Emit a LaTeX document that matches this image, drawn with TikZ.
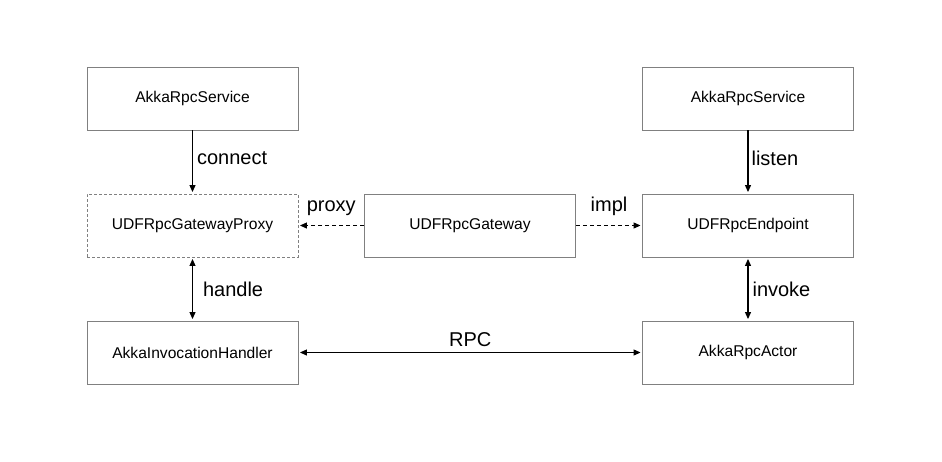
\documentclass[tikz,border=0pt]{standalone}
\usepackage{fontspec}
\setmainfont{Liberation Sans}
\usetikzlibrary{arrows.meta}
\begin{document}
\begin{tikzpicture}[x=1pt,y=-1pt,
  box/.style={draw=black!50,line width=0.9pt,minimum width=211pt,minimum height=63pt,inner sep=0pt,font=\fontsize{15.6}{18}\selectfont},
  dbox/.style={box,dashed,dash pattern=on 3pt off 2pt},
  conn/.style={line width=1.1pt,-{Triangle[length=7pt,width=6pt]},shorten >=1.5pt},
  biconn/.style={line width=1.1pt,{Triangle[length=7pt,width=6pt]}-{Triangle[length=7pt,width=6pt]},shorten >=1.5pt,shorten <=1.5pt},
  dconn/.style={conn,dashed,dash pattern=on 4pt off 3pt},
  lbl/.style={font=\fontsize{20}{24}\selectfont,inner sep=0pt}]
\useasboundingbox (0,0) rectangle (942,461);
\fill[white] (0,0) rectangle (942,461);
\node[box] (ars1) at (192.5,98.5) {AkkaRpcService};
\node[box] (ars2) at (748,98.5) {AkkaRpcService};
\node[dbox] (proxy) at (192.5,225.5) {UDFRpcGatewayProxy};
\node[box] (gw) at (470,225.5) {UDFRpcGateway};
\node[box] (ep) at (748,225.5) {UDFRpcEndpoint};
\node[box] (aih) at (192.5,352.5) {AkkaInvocationHandler};
\node[box] (actor) at (748,352.5) {AkkaRpcActor};
\draw[conn] (ars1) -- node[lbl,right=4pt,yshift=4pt] {connect} (proxy);
\draw[conn] (ars2) -- node[lbl,right=3pt,yshift=4pt] {listen} (ep);
\draw[biconn] (proxy) -- node[lbl,right=10pt] {handle} (aih);
\draw[biconn] (ep) -- node[lbl,right=4pt] {invoke} (actor);
\draw[dconn] (gw) -- node[lbl,above=9pt] {proxy} (proxy);
\draw[dconn] (gw) -- node[lbl,above=9pt] {impl} (ep);
\draw[biconn] (aih) -- node[lbl,above=5pt] {RPC} (actor);
\end{tikzpicture}
\end{document}
